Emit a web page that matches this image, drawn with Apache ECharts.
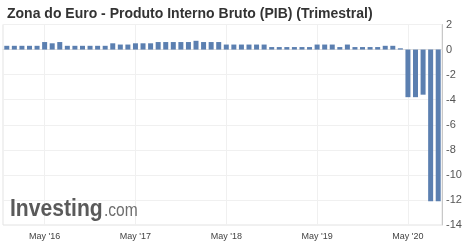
<!DOCTYPE html>
<html>
<head>
<meta charset="utf-8">
<script src="https://cdn.jsdelivr.net/npm/echarts@6/dist/echarts.min.js"></script>
<style>
html,body{margin:0;padding:0;background:#fff;}
#chart{width:470px;height:245px;}
</style>
</head>
<body>
<div id="chart"></div>
<script>
var titleText = "Zona do Euro - Produto Interno Bruto (PIB) (Trimestral)";
var months = [
  "Dec '15",
  "Jan '16","Feb '16","Mar '16","Apr '16","May '16","Jun '16","Jul '16","Aug '16","Sep '16","Oct '16","Nov '16","Dec '16",
  "Jan '17","Feb '17","Mar '17","Apr '17","May '17","Jun '17","Jul '17","Aug '17","Sep '17","Oct '17","Nov '17","Dec '17",
  "Jan '18","Feb '18","Mar '18","Apr '18","May '18","Jun '18","Jul '18","Aug '18","Sep '18","Oct '18","Nov '18","Dec '18",
  "Jan '19","Feb '19","Mar '19","Apr '19","May '19","Jun '19","Jul '19","Aug '19","Sep '19","Oct '19","Nov '19","Dec '19",
  "Jan '20","Feb '20","Mar '20","Apr '20","May '20","Jun '20","Jul '20","Aug '20","Sep '20"
];
var gdp = [
  0.3,
  0.3,0.3,0.3,0.3,0.6,0.5,0.6,0.3,0.3,0.3,0.3,0.3,
  0.3,0.5,0.4,0.4,0.5,0.5,0.5,0.6,0.6,0.6,0.6,0.6,
  0.7,0.6,0.6,0.6,0.4,0.4,0.4,0.4,0.4,0.4,0.2,0.2,
  0.2,0.2,0.2,0.2,0.4,0.4,0.4,0.2,0.4,0.2,0.2,0.2,
  0.2,0.3,0.3,0.1,-3.8,-3.8,-3.6,-12.1,-12.1
];
var xLabelMonths = ["May '16","May '17","May '18","May '19","May '20"];
var yMin = -14, yMax = 2, yStep = 2;

var chart = echarts.init(document.getElementById('chart'), null, {renderer:'canvas'});
var isLabel = function(i){ return xLabelMonths.indexOf(months[i]) >= 0; };
var option = {
  animation:false,
  backgroundColor:'#fff',
  title:{
    text:titleText, left:2, top:2,
    textStyle:{fontFamily:'Liberation Sans, Arial, sans-serif', fontSize:14, fontWeight:'bold', color:'#333'}
  },
  grid:{left:3, right:28, top:24.5, bottom:20, show:true, borderColor:'#e3e3e3', borderWidth:1, containLabel:false},
  xAxis:{
    type:'category', data:months, boundaryGap:true,
    axisLine:{show:true, lineStyle:{color:'#e0e0e0'}},
    axisTick:{show:false, alignWithLabel:true},
    axisLabel:{
      interval:function(i){return isLabel(i);},
      fontFamily:'Liberation Sans, Arial, sans-serif', fontSize:9, color:'#444', margin:7
    },
    splitLine:{show:true, alignWithLabel:true, interval:function(i){return isLabel(i);}, lineStyle:{color:'#f0f0f0', width:1}}
  },
  yAxis:{
    type:'value', position:'right', min:yMin, max:yMax, interval:yStep,
    axisLine:{show:true, lineStyle:{color:'#c8c8c8'}},
    axisTick:{show:false},
    axisLabel:{fontFamily:'Liberation Sans, Arial, sans-serif', fontSize:11, color:'#555', margin:4},
    splitLine:{show:true, lineStyle:{color:['#f0f0f0','#f0f0f0','#f0f0f0','#f0f0f0','#f0f0f0','#f0f0f0','#f0f0f0','#d8d8d8','#f0f0f0']}}
  },
  series:[{
    type:'bar', data:gdp, barWidth:5,
    itemStyle:{color:'#5b7fb0'},
    z:3
  }],
  graphic:[
    {type:'text', left:10, top:197, scaleX:0.88, z:10,
     style:{text:'Investing', fontFamily:'Liberation Sans, Arial, sans-serif', fontSize:24, fontWeight:'bold', fill:'#5a5a5a'}},
    {type:'text', left:104, top:201, scaleX:0.82, z:10,
     style:{text:'.com', fontFamily:'Liberation Sans, Arial, sans-serif', fontSize:19, fill:'#6e6e6e'}}
  ]
};
chart.setOption(option);
</script>
</body>
</html>
